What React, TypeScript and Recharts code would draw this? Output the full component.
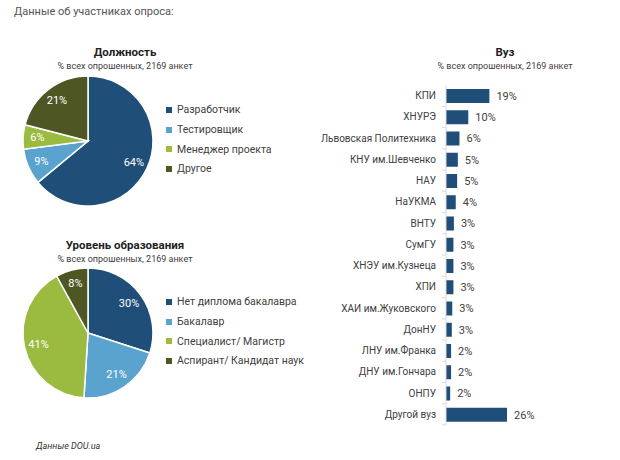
import { PieChart, Pie, Cell, BarChart, Bar, XAxis, YAxis, LabelList } from "recharts";

const FONT = "Roboto, sans-serif";
const TEXT = "#404040";

const roleNames = ["Разработчик", "Тестировщик", "Менеджер проекта", "Другое"];
const roleShares = [64, 9, 6, 21];

const eduNames = ["Нет диплома бакалавра", "Бакалавр", "Специалист/ Магистр", "Аспирант/ Кандидат наук"];
const eduShares = [30, 21, 41, 8];

const sliceColors = ["#1F4E79", "#5BA3CF", "#9BBB40", "#4E5724"];

const uniNames = [
  "КПИ", "ХНУРЭ", "Львовская Политехника", "КНУ им.Шевченко", "НАУ", "НаУКМА", "ВНТУ", "СумГУ",
  "ХНЭУ им.Кузнеца", "ХПИ", "ХАИ им.Жуковского", "ДонНУ", "ЛНУ им.Франка", "ДНУ им.Гончара", "ОНПУ", "Другой вуз",
];
const uniShares = [18.7, 9.6, 5.8, 5.1, 4.8, 4.2, 3.4, 3.2, 3.2, 3.2, 2.7, 2.5, 2.2, 2.2, 1.8, 26.3];

const subtitle = "% всех опрошенных, 2169 анкет";

const RAD = Math.PI / 180;

function sliceLabel(p: any) {
  const r = p.outerRadius * 0.78;
  const x = p.cx + r * Math.cos(-p.midAngle * RAD);
  const y = p.cy + r * Math.sin(-p.midAngle * RAD);
  return (
    <text x={x} y={y} fill="#fff" fontSize={11} fontFamily={FONT} textAnchor="middle" dominantBaseline="central">
      {p.value}%
    </text>
  );
}

function Heading({ title, left, top }: { title: string; left: number; top: number }) {
  return (
    <>
      <div style={{ position: "absolute", left, width: 250, top, textAlign: "center", fontFamily: FONT, fontWeight: 700, fontSize: 11.5, lineHeight: "14px", color: "#222" }}>
        {title}
      </div>
      <div style={{ position: "absolute", left, width: 250, top: top + 15, textAlign: "center", fontFamily: FONT, fontSize: 9, lineHeight: "12px", color: TEXT }}>
        {subtitle}
      </div>
    </>
  );
}

function PieBlock({ names, shares, top }: { names: string[]; shares: number[]; top: number }) {
  const data = names.map((name, i) => ({ name, value: shares[i] }));
  return (
    <>
      <div style={{ position: "absolute", left: 0, top }}>
        <PieChart width={180} height={150} margin={{ top: 0, right: 0, bottom: 0, left: 0 }}>
          <Pie
            data={data}
            dataKey="value"
            cx={88}
            cy={71}
            outerRadius={65}
            startAngle={90}
            endAngle={-270}
            stroke="#fff"
            strokeWidth={1.5}
            label={sliceLabel}
            labelLine={false}
            isAnimationActive={false}
          >
            {data.map((d, i) => (
              <Cell key={d.name} fill={sliceColors[i]} />
            ))}
          </Pie>
        </PieChart>
      </div>
      <div style={{ position: "absolute", left: 166, top: top + 30, fontFamily: FONT, fontSize: 10.5, color: TEXT }}>
        {names.map((n, i) => (
          <div key={n} style={{ display: "flex", alignItems: "center", height: 19.7 }}>
            <span style={{ width: 6, height: 6, background: sliceColors[i], marginRight: 5 }} />
            {n}
          </div>
        ))}
      </div>
    </>
  );
}

function UniTick(p: any) {
  const axisX = p.x + 10;
  return (
    <g>
      <text x={p.x} y={p.y} textAnchor="end" dominantBaseline="central" fontSize={10} fontFamily={FONT} fill={TEXT}>
        {p.payload.value}
      </text>
      <line x1={axisX - 4} x2={axisX} y1={p.y + 10.6} y2={p.y + 10.6} stroke="#d9d9d9" />
    </g>
  );
}

export default function App() {
  const uniData = uniNames.map((name, i) => ({ name, share: uniShares[i] }));
  return (
    <div style={{ position: "absolute", left: 0, top: 0, width: 620, height: 460, background: "#fff", overflow: "hidden" }}>
      <div style={{ position: "absolute", left: 14, top: 5, fontFamily: FONT, fontSize: 11, color: "#555" }}>
        Данные об участниках опроса:
      </div>

      <Heading title="Должность" left={0} top={45} />
      <PieBlock names={roleNames} shares={roleShares} top={70} />

      <Heading title="Уровень образования" left={0} top={238} />
      <PieBlock names={eduNames} shares={eduShares} top={262} />

      <div style={{ position: "absolute", left: 36, top: 441, fontFamily: FONT, fontSize: 9, fontStyle: "italic", color: "#333" }}>
        Данные DOU.ua
      </div>

      <Heading title="Вуз" left={380} top={45} />

      <div style={{ position: "absolute", left: 300, top: 0 }}>
        <BarChart width={320} height={460} data={uniData} layout="vertical" margin={{ top: 85, right: 0, bottom: 35, left: 0 }}>
          <XAxis type="number" orientation="top" domain={[0, 75]} tick={false} height={0} axisLine={{ stroke: "#d9d9d9" }} tickLine={false} />
          <YAxis
            type="category"
            dataKey="name"
            width={146}
            tickSize={6}
            tickMargin={4}
            tickLine={false}
            axisLine={{ stroke: "#d9d9d9" }}
            tick={<UniTick />}
            interval={0}
          />
          <Bar dataKey="share" fill="#1F4E79" barSize={14} isAnimationActive={false}>
            <LabelList
              dataKey="share"
              position="right"
              offset={7}
              formatter={(v: any) => `${Math.round(Number(v))}%`}
              style={{ fontSize: 11, fontFamily: FONT, fill: TEXT }}
            />
          </Bar>
        </BarChart>
      </div>
    </div>
  );
}
